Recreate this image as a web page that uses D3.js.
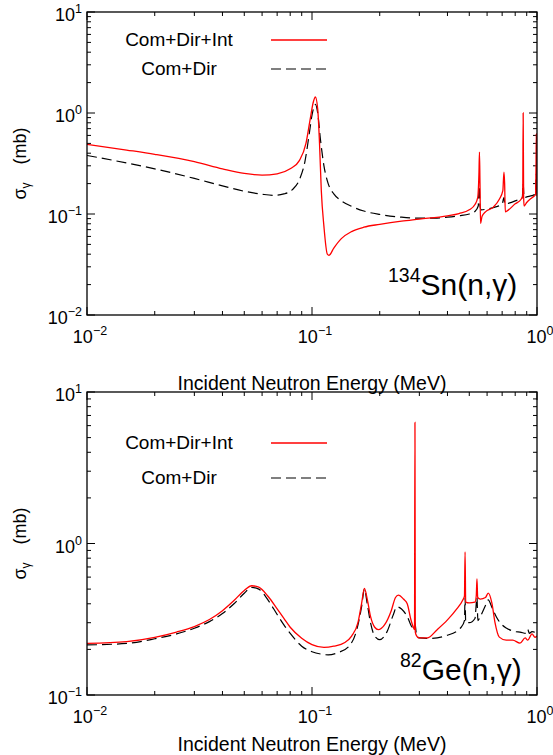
<!DOCTYPE html>
<html>
<head>
<meta charset="utf-8">
<script src="https://cdn.jsdelivr.net/npm/d3@7"></script>
<style>
  body { margin: 0; background: #fff; }
  svg { display: block; font-family: "Liberation Sans", Arial, sans-serif; }
</style>
</head>
<body>
<svg id="chart" width="553" height="755"></svg>
<script>
// 134Sn(n,g) — top panel
const snIntE = [0.01,0.015,0.02,0.03,0.04,0.05,0.06,0.07,0.08,0.088,0.094,0.098,0.1015,0.1035,0.106,0.108,0.110,0.113,0.117,0.119,0.125,0.135,0.15,0.17,0.2,0.25,0.3,0.4,0.45,0.5,0.53,0.545,0.552,0.555,0.558,0.561,0.57,0.59,0.64,0.68,0.705,0.713,0.718,0.723,0.74,0.8,0.85,0.864,0.868,0.872,0.876,0.9,0.95,0.985,0.99,0.993,0.996,1.0];
const snIntS = [0.49,0.43,0.39,0.33,0.28,0.252,0.243,0.25,0.28,0.34,0.5,0.85,1.3,1.44,1.1,0.5,0.17,0.075,0.04,0.039,0.046,0.057,0.067,0.074,0.079,0.085,0.089,0.096,0.101,0.11,0.124,0.145,0.25,0.41,0.2,0.081,0.095,0.105,0.117,0.14,0.17,0.26,0.2,0.105,0.108,0.126,0.14,0.15,1.0,0.15,0.12,0.13,0.145,0.155,0.3,0.62,0.3,0.15];
const snDirE = [0.01,0.015,0.02,0.03,0.04,0.05,0.06,0.068,0.075,0.082,0.088,0.093,0.097,0.1,0.1035,0.106,0.109,0.113,0.118,0.125,0.135,0.15,0.17,0.2,0.25,0.3,0.35,0.4,0.45,0.5,0.53,0.548,0.554,0.558,0.565,0.6,0.65,0.7,0.713,0.72,0.75,0.8,0.86,0.868,0.876,0.9,0.95,0.985,0.993,1.0];
const snDirS = [0.38,0.32,0.28,0.225,0.19,0.168,0.157,0.153,0.158,0.175,0.22,0.33,0.6,0.95,1.22,1.0,0.55,0.3,0.2,0.158,0.135,0.119,0.107,0.099,0.093,0.091,0.091,0.093,0.096,0.1,0.106,0.12,0.19,0.12,0.11,0.112,0.117,0.125,0.145,0.125,0.128,0.135,0.145,0.2,0.145,0.148,0.152,0.158,0.25,0.16];

// 82Ge(n,g) — bottom panel
const geIntE = [0.01,0.015,0.02,0.025,0.03,0.035,0.04,0.045,0.05,0.054,0.058,0.064,0.07,0.075,0.08,0.09,0.1,0.113,0.125,0.14,0.15,0.16,0.166,0.171,0.176,0.182,0.19,0.197,0.21,0.225,0.235,0.242,0.255,0.265,0.275,0.282,0.2855,0.2868,0.2878,0.292,0.3,0.325,0.36,0.4,0.44,0.468,0.476,0.479,0.482,0.5,0.53,0.537,0.541,0.545,0.56,0.59,0.607,0.63,0.65,0.68,0.73,0.78,0.84,0.886,0.91,0.95,0.98,1.0];
const geIntS = [0.219,0.225,0.24,0.26,0.283,0.315,0.36,0.42,0.49,0.526,0.515,0.445,0.37,0.32,0.28,0.237,0.215,0.206,0.21,0.222,0.245,0.3,0.4,0.505,0.43,0.33,0.28,0.27,0.29,0.36,0.44,0.456,0.43,0.4,0.315,0.28,0.27,6.3,0.26,0.245,0.238,0.238,0.27,0.313,0.37,0.424,0.45,0.88,0.41,0.405,0.41,0.45,0.583,0.44,0.43,0.44,0.47,0.405,0.303,0.241,0.23,0.23,0.22,0.238,0.23,0.253,0.24,0.245];
const geDirE = [0.01,0.015,0.02,0.025,0.03,0.035,0.04,0.045,0.05,0.054,0.058,0.064,0.07,0.075,0.08,0.09,0.1,0.11,0.118,0.13,0.146,0.157,0.166,0.171,0.176,0.182,0.19,0.2,0.215,0.23,0.238,0.25,0.265,0.28,0.2865,0.292,0.3,0.33,0.4,0.46,0.476,0.479,0.482,0.5,0.53,0.541,0.546,0.56,0.59,0.607,0.63,0.66,0.7,0.73,0.8,0.84,0.9,0.91,0.925,0.95,0.98,1.0];
const geDirS = [0.214,0.219,0.235,0.253,0.276,0.305,0.345,0.4,0.47,0.513,0.5,0.42,0.34,0.29,0.255,0.21,0.193,0.186,0.184,0.19,0.21,0.26,0.38,0.5,0.4,0.3,0.245,0.232,0.26,0.34,0.382,0.37,0.33,0.28,0.3,0.245,0.238,0.236,0.248,0.28,0.31,0.44,0.3,0.3,0.32,0.44,0.31,0.33,0.39,0.424,0.38,0.327,0.29,0.277,0.262,0.26,0.255,0.27,0.255,0.262,0.26,0.26];

const xMajor = [0.01, 0.1, 1];
const snYMajor = [0.01, 0.1, 1, 10];
const geYMajor = [0.1, 1, 10];
const legendNames = ["Com+Dir+Int", "Com+Dir"];

const svg = d3.select("#chart");

function expLabel(sel, v) {
  const e = Math.round(Math.log10(v));
  sel.append("tspan").text("10");
  sel.append("tspan").attr("dy", -8).attr("font-size", 12.5).text(e < 0 ? "\u2212" + (-e) : e);
}

function minorTicks(major) {
  const out = [];
  for (let i = 0; i < major.length - 1; i++)
    for (let k = 2; k <= 9; k++) out.push(major[i] * k);
  return out;
}

function drawPanel(p) {
  const x = d3.scaleLog().domain([0.01, 1]).range([p.x0, p.x1]);
  const y = d3.scaleLog().domain(p.yDomain).range([p.y1, p.y0]);
  const g = svg.append("g");

  const clipId = "clip" + p.id;
  g.append("clipPath").attr("id", clipId)
    .append("rect").attr("x", p.x0).attr("y", p.y0)
    .attr("width", p.x1 - p.x0).attr("height", p.y1 - p.y0);

  // ticks on all four sides, pointing inward
  const tickG = g.append("g").attr("stroke", "#000").attr("stroke-width", 1);
  const xm = minorTicks(xMajor);
  const ym = minorTicks(p.yMajor);
  [[xMajor, 8], [xm, 4]].forEach(([vals, len]) => {
    vals.forEach(v => {
      tickG.append("line").attr("x1", x(v)).attr("x2", x(v)).attr("y1", p.y1).attr("y2", p.y1 - len);
      tickG.append("line").attr("x1", x(v)).attr("x2", x(v)).attr("y1", p.y0).attr("y2", p.y0 + len);
    });
  });
  [[p.yMajor, 8], [ym, 4]].forEach(([vals, len]) => {
    vals.forEach(v => {
      tickG.append("line").attr("y1", y(v)).attr("y2", y(v)).attr("x1", p.x0).attr("x2", p.x0 + len);
      tickG.append("line").attr("y1", y(v)).attr("y2", y(v)).attr("x1", p.x1).attr("x2", p.x1 - len);
    });
  });

  // tick labels
  p.yMajor.forEach(v => {
    const t = g.append("text").attr("x", p.x0 - 5).attr("y", y(v) + 9)
      .attr("text-anchor", "end").attr("font-size", 18);
    expLabel(t, v);
  });
  xMajor.forEach(v => {
    const t = g.append("text").attr("x", x(v) + 3).attr("y", p.y1 + 28)
      .attr("text-anchor", "middle").attr("font-size", 18);
    expLabel(t, v);
  });

  // axis titles
  g.append("text").attr("x", (p.x0 + p.x1) / 2).attr("y", p.titleY)
    .attr("text-anchor", "middle").attr("font-size", 19.5)
    .text("Incident Neutron Energy (MeV)");
  const yl = g.append("text")
    .attr("transform", `translate(26,${(p.y0 + p.y1) / 2}) rotate(-90)`)
    .attr("text-anchor", "middle").attr("font-size", 18);
  yl.append("tspan").text("\u03c3");
  yl.append("tspan").attr("dy", 4).attr("font-size", 12).text("\u03b3");
  yl.append("tspan").attr("dy", -4).attr("dx", 18).text("(mb)");

  // curves
  const line = d3.line().x(d => x(d[0])).y(d => y(d[1])).curve(d3.curveMonotoneX);
  const lines = g.append("g").attr("clip-path", `url(#${clipId})`);
  lines.append("path").datum(d3.zip(p.dirE, p.dirS)).attr("d", line)
    .attr("fill", "none").attr("stroke", "#000").attr("stroke-width", 1.2)
    .attr("stroke-dasharray", "10,5");
  lines.append("path").datum(d3.zip(p.intE, p.intS)).attr("d", line)
    .attr("fill", "none").attr("stroke", "#ff0000").attr("stroke-width", 1.3);

  // frame
  g.append("rect").attr("x", p.x0).attr("y", p.y0)
    .attr("width", p.x1 - p.x0).attr("height", p.y1 - p.y0)
    .attr("fill", "none").attr("stroke", "#000").attr("stroke-width", 1.3);

  // legend
  const styles = [{ c: "#ff0000", dash: null, w: 1.3 }, { c: "#000", dash: "10,5", w: 1.2 }];
  legendNames.forEach((name, i) => {
    const ly = p.legY[i];
    g.append("text").attr("x", 179).attr("y", ly + 6).attr("text-anchor", "middle")
      .attr("font-size", 19).text(name);
    g.append("line").attr("x1", 271).attr("x2", 327).attr("y1", ly).attr("y2", ly)
      .attr("stroke", styles[i].c).attr("stroke-width", styles[i].w)
      .attr("stroke-dasharray", styles[i].dash);
  });

  // reaction label
  const r = g.append("text").attr("x", p.lab[0]).attr("y", p.lab[1]).attr("font-size", 30);
  r.append("tspan").attr("font-size", 19.5).attr("dy", -13).text(p.mass);
  r.append("tspan").attr("dy", 13).text(p.reaction);
}

drawPanel({
  id: "sn", x0: 87, x1: 537, y0: 12, y1: 315, yDomain: [0.01, 10], yMajor: snYMajor,
  intE: snIntE, intS: snIntS, dirE: snDirE, dirS: snDirS, titleY: 390,
  legY: [40, 69], lab: [388, 295], mass: "134", reaction: "Sn(n,\u03b3)"
});
drawPanel({
  id: "ge", x0: 87, x1: 537, y0: 392, y1: 695, yDomain: [0.1, 10], yMajor: geYMajor,
  intE: geIntE, intS: geIntS, dirE: geDirE, dirS: geDirS, titleY: 751,
  legY: [443, 478], lab: [400, 680], mass: "82", reaction: "Ge(n,\u03b3)"
});
</script>
</body>
</html>
